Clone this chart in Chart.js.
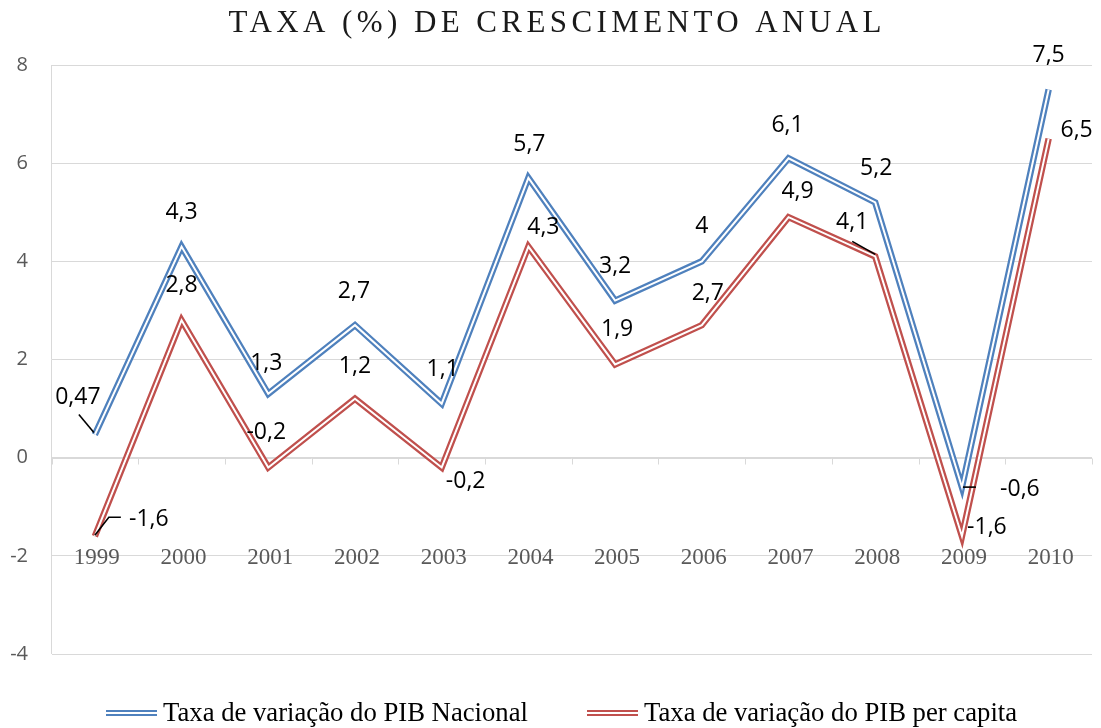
<!DOCTYPE html>
<html>
<head>
<meta charset="utf-8">
<script src="https://cdn.jsdelivr.net/npm/chart.js@4/dist/chart.umd.min.js"></script>
<style>
  html, body { margin: 0; padding: 0; background: #ffffff; }
  #wrap { width: 1101px; height: 728px; position: relative; }
</style>
</head>
<body>
<div id="wrap"><canvas id="c" width="1101" height="728"></canvas></div>
<script>
// ---- data ----
const titleText = 'TAXA (%) DE CRESCIMENTO ANUAL';
const categories = ['1999','2000','2001','2002','2003','2004','2005','2006','2007','2008','2009','2010'];
const pibNacional = [0.47, 4.3, 1.3, 2.7, 1.1, 5.7, 3.2, 4, 6.1, 5.2, -0.6, 7.5];
const pibPerCapita = [-1.6, 2.8, -0.2, 1.2, -0.2, 4.3, 1.9, 2.7, 4.9, 4.1, -1.6, 6.5];
const seriesNames = ['Taxa de variação do PIB Nacional', 'Taxa de variação do PIB per capita'];
const yTicks = [-4, -2, 0, 2, 4, 6, 8];

// ---- style / label placement (pixel offsets from each point) ----
const BLUE = '#4f81bd', RED = '#c0504d';
const nacionalLabelOffsets = [[-17,-37],[0,-34],[-2,-30],[-1,-34],[1,-34],[1,-33],[0,-34],[0,-35],[-1,-33],[1,-34],[58,2],[0,-34]];
const perCapitaLabelOffsets = [[54,-17],[0,-35],[-2,-35],[0,-32],[24,14],[15,-19],[2,-35],[6,-32],[9,-26],[-23,-34],[25,-9],[28,-8]];
// leader lines: [seriesIndex, pointIndex, [[dx,dy],...]]
const leaders = [
  [0, 0, [[-16,-20],[-1,-2]]],
  [1, 0, [[0,-1],[14,-19],[26,-19]]],
  [0, 10, [[1,0],[14,0]]],
  [1, 9, [[-23,-15],[0,-2]]]
];

const fmt = v => String(v).replace('.', ',');
const LABEL_FONT = '23px "Open Sans"';
const GRID = '#d9d9d9';

const customPlugin = {
  id: 'custom',
  beforeDraw(chart) {
    const ctx = chart.ctx;
    ctx.save();
    ctx.fillStyle = '#ffffff';
    ctx.fillRect(0, 0, chart.width, chart.height);
    ctx.restore();
  },
  beforeDatasetsDraw(chart) {
    const ctx = chart.ctx, ca = chart.chartArea;
    const xs = chart.scales.x, ys = chart.scales.y;
    ctx.save();
    // y axis line
    ctx.strokeStyle = GRID; ctx.lineWidth = 1;
    ctx.beginPath(); ctx.moveTo(Math.round(ca.left) - 0.5, ca.top); ctx.lineTo(Math.round(ca.left) - 0.5, ca.bottom); ctx.stroke();
    // x axis line at 0 with ticks at category boundaries
    const y0 = Math.round(ys.getPixelForValue(0)) + 0.5;
    ctx.beginPath(); ctx.moveTo(ca.left, y0); ctx.lineTo(ca.right, y0); ctx.stroke();
    const w = (ca.right - ca.left) / categories.length;
    for (let i = 0; i <= categories.length; i++) {
      const x = Math.round(ca.left + i * w) + 0.5;
      ctx.beginPath(); ctx.moveTo(x, y0); ctx.lineTo(x, y0 + 6); ctx.stroke();
    }
    // y tick labels
    ctx.fillStyle = '#595959';
    ctx.font = '20px "Open Sans"';
    ctx.textAlign = 'right'; ctx.textBaseline = 'middle';
    yTicks.forEach(t => ctx.fillText(String(t), 28, ys.getPixelForValue(t)));
    // category labels at the -2 level
    ctx.font = '23px "Liberation Serif"';
    ctx.textAlign = 'center';
    const yl = ys.getPixelForValue(-2) + 2;
    categories.forEach((c, i) => ctx.fillText(c, xs.getPixelForValue(i) + 2, yl));
    ctx.restore();
  },
  afterDraw(chart) {
    const ctx = chart.ctx;
    ctx.save();
    // title
    ctx.fillStyle = '#1a1a1a';
    ctx.font = '31px "Liberation Serif"';
    ctx.textBaseline = 'middle';
    ctx.textAlign = 'left';
    const targetW = 653;
    ctx.letterSpacing = '0px';
    const baseW = ctx.measureText(titleText).width;
    const ls = (targetW - baseW) / (titleText.length - 1);
    ctx.letterSpacing = ls + 'px';
    ctx.fillText(titleText, 555 - targetW / 2, 24);
    ctx.letterSpacing = '0px';

    // data labels
    const metaB = chart.getDatasetMeta(0), metaR = chart.getDatasetMeta(2);
    ctx.fillStyle = '#000000';
    ctx.font = LABEL_FONT;
    ctx.textAlign = 'center'; ctx.textBaseline = 'middle';
    pibNacional.forEach((v, i) => {
      const p = metaB.data[i];
      ctx.fillText(fmt(v), p.x + nacionalLabelOffsets[i][0], p.y + nacionalLabelOffsets[i][1]);
    });
    pibPerCapita.forEach((v, i) => {
      const p = metaR.data[i];
      ctx.fillText(fmt(v), p.x + perCapitaLabelOffsets[i][0], p.y + perCapitaLabelOffsets[i][1]);
    });
    // leader lines
    ctx.strokeStyle = '#000000'; ctx.lineWidth = 1.6;
    leaders.forEach(([s, i, pts]) => {
      const p = (s === 0 ? metaB : metaR).data[i];
      ctx.beginPath();
      pts.forEach(([dx, dy], k) => k === 0 ? ctx.moveTo(p.x + dx, p.y + dy) : ctx.lineTo(p.x + dx, p.y + dy));
      ctx.stroke();
    });

    // legend
    ctx.font = '26.7px "Liberation Serif"';
    ctx.textAlign = 'left'; ctx.textBaseline = 'middle';
    const legY = 713;
    const items = [[BLUE, seriesNames[0], 106], [RED, seriesNames[1], 587]];
    items.forEach(([col, name, x]) => {
      ctx.fillStyle = col;
      ctx.fillRect(x, legY - 3, 51, 6);
      ctx.fillStyle = '#ffffff';
      ctx.fillRect(x, legY - 1, 51, 2);
      ctx.fillStyle = '#000000';
      ctx.fillText(name, x + 57, legY + 1);
    });
    ctx.restore();
  }
};

const mk = (data, color, width, order, label) => ({
  label, data, borderColor: color, backgroundColor: color,
  borderWidth: width, pointRadius: 0, pointHoverRadius: 0,
  tension: 0, fill: false, borderJoinStyle: 'miter', borderCapStyle: 'butt', order
});

new Chart(document.getElementById('c'), {
  type: 'line',
  data: {
    labels: categories,
    datasets: [
      mk(pibNacional, BLUE, 6.5, 3, seriesNames[0]),
      mk(pibNacional, '#ffffff', 2, 2, ''),
      mk(pibPerCapita, RED, 6.5, 1, seriesNames[1]),
      mk(pibPerCapita, '#ffffff', 2, 0, '')
    ]
  },
  options: {
    responsive: false,
    animation: false,
    events: [],
    layout: { padding: { left: 51.5, right: 9, top: 65, bottom: 74 } },
    plugins: { legend: { display: false }, title: { display: false }, tooltip: { enabled: false } },
    scales: {
      x: {
        type: 'category', offset: true,
        grid: { display: false, drawTicks: false },
        border: { display: false },
        ticks: { display: false },
        afterFit: s => { s.height = 0; }
      },
      y: {
        min: -4, max: 8,
        grid: { color: GRID, lineWidth: 1, drawTicks: false },
        border: { display: false },
        ticks: { display: false, stepSize: 2 },
        afterFit: s => { s.width = 0; }
      }
    }
  },
  plugins: [customPlugin]
});
</script>
</body>
</html>
